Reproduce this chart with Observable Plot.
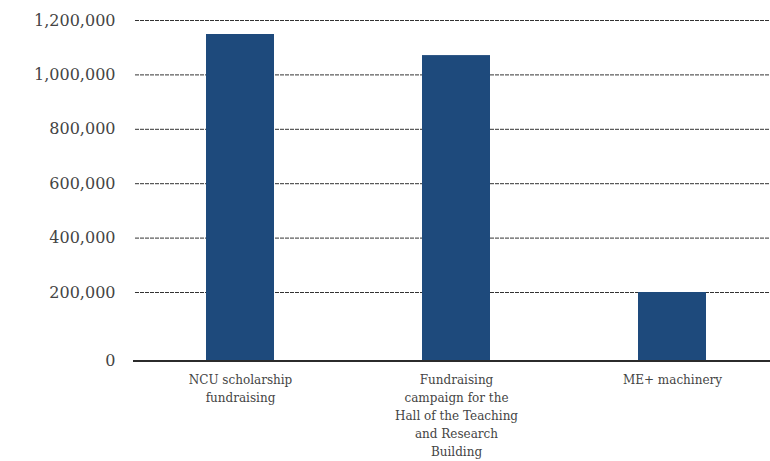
<!DOCTYPE html>
<html>
<head>
<meta charset="utf-8">
<script src="https://cdn.jsdelivr.net/npm/d3@7"></script>
<script src="https://cdn.jsdelivr.net/npm/@observablehq/plot@0.6"></script>
<style>
  html, body { margin: 0; padding: 0; background: #fff; }
  #chart svg { display: block; }
</style>
</head>
<body>
<div id="chart"></div>
<script>
const categories = [
  "NCU scholarship fundraising",
  "Fundraising campaign for the Hall of the Teaching and Research Building",
  "ME+ machinery"
];
const tickLabels = [
  "NCU scholarship\nfundraising",
  "Fundraising\ncampaign for the\nHall of the Teaching\nand Research\nBuilding",
  "ME+ machinery"
];
const amounts = [1148500, 1071000, 200000];
const yTicks = [0, 200000, 400000, 600000, 800000, 1000000, 1200000];

const data = categories.map((c, i) => ({category: c, amount: amounts[i]}));
const labelOf = new Map(categories.map((c, i) => [c, tickLabels[i]]));
const font = "DejaVu Serif";
const baseDrop = 14; // the reference draws its baseline a little below the zero of the scale

const chart = Plot.plot({
  width: 770,
  height: 461,
  marginLeft: 133,
  marginRight: 0,
  marginTop: 20,
  marginBottom: 101,
  style: {fontFamily: font, background: "#fff"},
  x: {domain: categories, range: [131, 781], paddingInner: 0.686, paddingOuter: 0.343, label: null},
  y: {domain: [0, 1200000], range: [346.4, 20], label: null},
  marks: [
    Plot.ruleY(yTicks.filter(d => d > 0), {stroke: "#333", strokeWidth: 1, strokeDasharray: "4,1", insetLeft: 2}),
    Plot.barY(data, {x: "category", y: "amount", fill: "#1e4a7c", insetBottom: -baseDrop}),
    Plot.ruleY([0], {stroke: "#2b2b2b", strokeWidth: 2, dy: baseDrop}),
    Plot.axisY(yTicks.filter(d => d > 0), {tickSize: 0, tickPadding: 18, tickFormat: d => d3.format(",")(d), fontSize: 16, fill: "#444", fontFamily: font}),
    Plot.axisY([0], {tickSize: 0, tickPadding: 18, tickFormat: d => d3.format(",")(d), fontSize: 16, fill: "#444", fontFamily: font, dy: baseDrop}),
    Plot.axisX({tickSize: 0, tickPadding: 11, tickFormat: d => labelOf.get(d), fontSize: 12, lineHeight: 1.5, fill: "#444", fontFamily: font})
  ]
});
document.getElementById("chart").appendChild(chart);
</script>
</body>
</html>
